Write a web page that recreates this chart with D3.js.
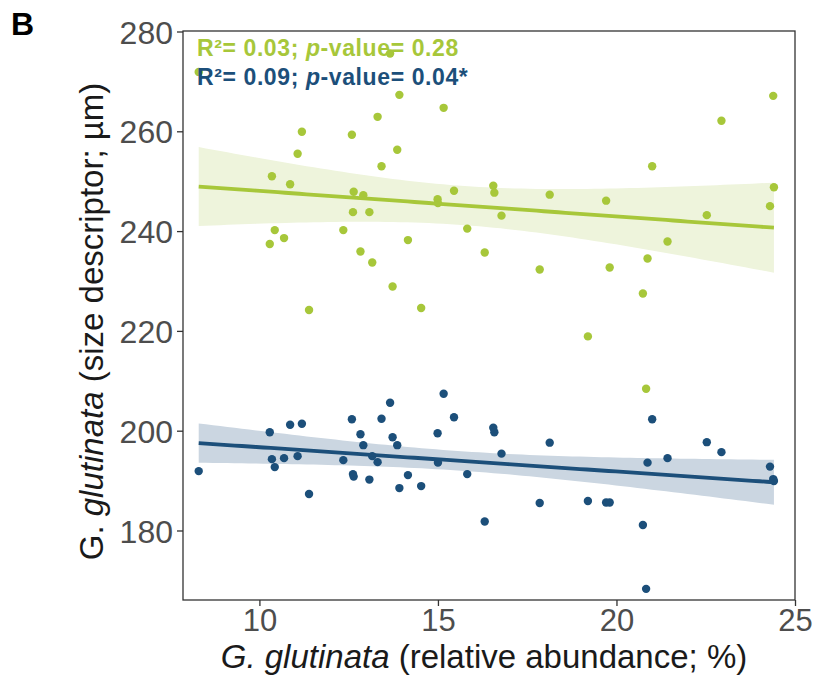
<!DOCTYPE html>
<html>
<head>
<meta charset="utf-8">
<script src="https://cdn.jsdelivr.net/npm/d3@7"></script>
<style>
  html, body { margin: 0; padding: 0; background: #fff; }
  svg { display: block; font-family: "Liberation Sans", Arial, sans-serif; }
</style>
</head>
<body>
<svg id="chart" width="816" height="679"></svg>
<script>
// Relative abundance of G. glutinata (%), one value per sample
const abundance = [8.30, 10.29, 10.35, 10.43, 10.69, 10.86, 11.07, 11.19, 11.39, 12.35,
  12.59, 12.62, 12.64, 12.83, 12.91, 13.08, 13.16, 13.31, 13.42, 13.66,
  13.73, 13.86, 13.92, 14.16, 14.53, 14.99, 15.00, 15.16, 15.45, 15.82,
  16.31, 16.55, 16.58, 16.78, 17.85, 18.13, 19.20, 19.71, 19.81, 20.74,
  20.83, 20.87, 21.00, 21.43, 22.53, 22.94, 24.30, 24.39, 24.41];
// Size descriptor (µm) — green series
const sizeGreen = [271.9, 237.4, 251.0, 240.2, 238.6, 249.4, 255.5, 259.9, 224.2, 240.2,
  259.3, 243.8, 247.9, 235.9, 247.2, 243.8, 233.7, 262.9, 253.0, 275.6,
  228.9, 256.3, 267.3, 238.2, 224.6, 246.4, 245.6, 264.7, 248.1, 240.5,
  235.7, 249.1, 247.7, 243.1, 232.3, 247.3, 218.9, 246.1, 232.7, 227.5,
  208.4, 234.5, 253.0, 237.9, 243.2, 262.1, 245.0, 267.1, 248.8];
// Size descriptor (µm) — blue series
const sizeBlue = [191.9, 199.7, 194.3, 192.7, 194.5, 201.2, 194.9, 201.4, 187.3, 194.1,
  202.3, 191.3, 190.8, 199.3, 197.1, 190.2, 194.9, 193.7, 202.4, 205.6,
  198.7, 197.1, 188.5, 191.1, 188.9, 199.5, 193.6, 207.4, 202.7, 191.3,
  181.8, 200.6, 199.7, 195.4, 185.5, 197.6, 185.9, 185.6, 185.6, 181.1,
  168.3, 193.6, 202.3, 194.5, 197.7, 195.7, 192.8, 190.3, 189.9];

const xTicks = [10, 15, 20, 25];
const yTicks = [180, 200, 220, 240, 260, 280];
const statLabels = [
  { r2: "0.03", p: "0.28" },
  { r2: "0.09", p: "0.04*" }
];

const colGreen = "#a7c73a", colBlue = "#1c4f7a";
const bandGreen = "#eef4dc", bandBlue = "#cbd6e1";

const svg = d3.select("#chart");
const L = 183, R = 795, T = 31, B = 600;

const x = d3.scaleLinear().domain([7.86, 25.0]).range([L, R]);
const y = d3.scaleLinear().domain([166.07, 280.1]).range([B, T]);

// Linear model with 95% confidence band (as geom_smooth(method = "lm"))
function fit(xs, ys) {
  const n = xs.length;
  const mx = d3.mean(xs), my = d3.mean(ys);
  let sxx = 0, sxy = 0;
  for (let i = 0; i < n; i++) { sxx += (xs[i]-mx)**2; sxy += (xs[i]-mx)*(ys[i]-my); }
  const b = sxy / sxx, a = my - b*mx;
  let sse = 0;
  for (let i = 0; i < n; i++) sse += (ys[i] - a - b*xs[i])**2;
  const s = Math.sqrt(sse/(n-2));
  const t = 2.0117; // t(0.975, 47)
  const [x0, x1] = d3.extent(xs);
  return d3.range(0, 81).map(k => {
    const xv = x0 + (x1-x0)*k/80;
    const yv = a + b*xv;
    const se = s*Math.sqrt(1/n + (xv-mx)**2/sxx);
    return { x: xv, y: yv, lo: yv - t*se, hi: yv + t*se };
  });
}

const g = svg.append("g");
svg.append("defs").append("clipPath").attr("id", "clip")
  .append("rect").attr("x", L).attr("y", T).attr("width", R-L).attr("height", B-T);

const plot = g.append("g").attr("clip-path", "url(#clip)");

const series = [
  { ys: sizeGreen, col: colGreen, band: bandGreen },
  { ys: sizeBlue, col: colBlue, band: bandBlue }
];

series.forEach(s => {
  s.fit = fit(abundance, s.ys);
  plot.append("path").datum(s.fit)
    .attr("fill", s.band)
    .attr("d", d3.area().x(d => x(d.x)).y0(d => y(d.lo)).y1(d => y(d.hi)));
});
series.forEach(s => {
  plot.append("g").selectAll("circle").data(abundance).join("circle")
    .attr("cx", d => x(d)).attr("cy", (d, i) => y(s.ys[i]))
    .attr("r", 4.2).attr("fill", s.col);
});
series.forEach(s => {
  plot.append("path").datum(s.fit)
    .attr("fill", "none").attr("stroke", s.col).attr("stroke-width", 3.8)
    .attr("d", d3.line().x(d => x(d.x)).y(d => y(d.y)));
});

// Panel border
g.append("rect").attr("x", L).attr("y", T).attr("width", R-L).attr("height", B-T)
  .attr("fill", "none").attr("stroke", "#333").attr("stroke-width", 1.3);

// Axes
const xAxis = g.append("g").attr("transform", `translate(0,${B})`)
  .call(d3.axisBottom(x).tickValues(xTicks).tickSize(6).tickPadding(3).tickFormat(d3.format("d")));
const yAxis = g.append("g").attr("transform", `translate(${L},0)`)
  .call(d3.axisLeft(y).tickValues(yTicks).tickSize(6).tickPadding(4).tickFormat(d3.format("d")));
[xAxis, yAxis].forEach(ax => {
  ax.select(".domain").remove();
  ax.selectAll(".tick line").attr("stroke", "#333").attr("stroke-width", 1.3);
  ax.selectAll(".tick text").attr("fill", "#4d4d4d")
    .style("font-family", '"Liberation Sans", Arial, sans-serif');
});
yAxis.selectAll(".tick text").style("font-size", "32px").attr("dy", "0.36em");
xAxis.selectAll(".tick text").style("font-size", "31px");

// Axis titles
const xt = svg.append("text").attr("x", (L+R)/2 - 5).attr("y", 668)
  .attr("text-anchor", "middle").attr("fill", "#1a1a1a").style("font-size", "33px");
xt.append("tspan").attr("font-style", "italic").text("G. glutinata");
xt.append("tspan").text(" (relative abundance; %)");

const yt = svg.append("text").attr("transform", `translate(103,${(T+B)/2 + 6}) rotate(-90)`)
  .attr("text-anchor", "middle").attr("fill", "#1a1a1a").style("font-size", "33px");
yt.append("tspan").text("G. ");
yt.append("tspan").attr("font-style", "italic").text("glutinata");
yt.append("tspan").text(" (size descriptor; µm)");

// Panel tag
svg.append("text").attr("x", 11).attr("y", 35).attr("font-weight", "bold")
  .attr("fill", "#000").style("font-size", "32px").text("B");

// Statistics annotations
const annY = [55.5, 85];
statLabels.forEach((s, i) => {
  const t = svg.append("text").attr("x", 197).attr("y", annY[i])
    .attr("fill", series[i].col).attr("font-weight", "bold")
    .style("font-size", "23px").style("letter-spacing", "0.6px");
  t.append("tspan").text(`R²= ${s.r2}; `);
  t.append("tspan").attr("font-style", "italic").text("p");
  t.append("tspan").text(`-value= ${s.p}`);
});
</script>
</body>
</html>
